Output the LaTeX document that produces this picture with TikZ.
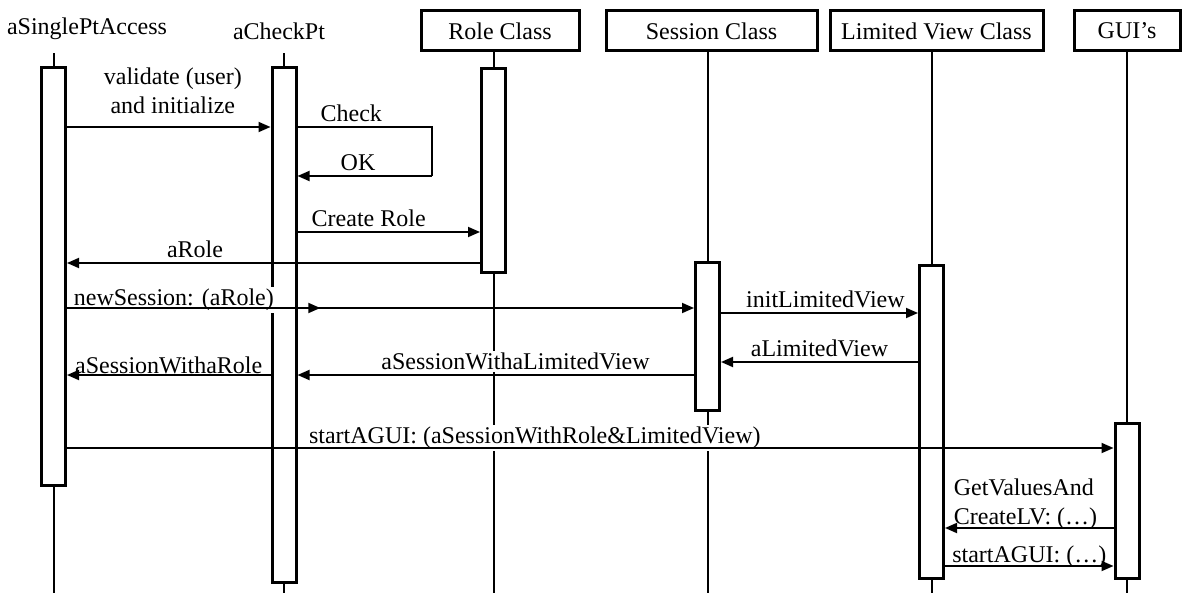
\documentclass[tikz,border=0pt]{standalone}
\usepackage{fontspec}
\setmainfont{Liberation Serif}
\usetikzlibrary{arrows.meta,decorations.markings}

\tikzset{
    head/.style={draw, line width=1.5pt, minimum height=20pt, inner sep=0pt},
    bar/.style={draw, fill=white, line width=1.5pt, minimum width=12pt, inner sep=0pt},
    life/.style={line width=1pt},
    msg/.style={line width=0.9pt, -{Triangle[length=6pt,width=5pt]}},
    lbl/.style={fill=white, inner sep=1pt, above=1pt, behind path},
}

\begin{document}
\begin{tikzpicture}[x=0.5pt, y=-0.5pt, font=\fontsize{12}{13.5}\selectfont]
    \useasboundingbox (0,0) rectangle (1182,593);

    % 绘制对象名称
    \node (acc) at (87,29) {aSinglePtAccess};
    \node (chk) at (279,31) {aCheckPt};
    \node[head, minimum width=79pt] (role) at (500,31) {Role Class};
    \node[head, minimum width=105.5pt] (ses) at (711.5,31) {Session Class};
    \node[head, minimum width=106.5pt] (lv) at (936.5,31) {Limited View Class};
    \node[head, minimum width=53pt] (gui) at (1127,31) {GUI’s};

    % 绘制激活条
    \node[bar, minimum height=208.5pt] (accBar) at (53.5,276.5) {};
    \node[bar, minimum height=257pt] (chkBar) at (284,325) {};
    \node[bar, minimum height=101.5pt] (roleBar) at (493.5,170.5) {};
    \node[bar, minimum height=74pt] (sesBar) at (707.5,336) {};
    \node[bar, minimum height=156.5pt] (lvBar) at (931.5,421.5) {};
    \node[bar, minimum height=77.5pt] (guiBar) at (1127,500.5) {};

    % 绘制生命线
    \draw[life] (accBar.north) -- ++(0,-13);
    \draw[life] (accBar.south) -- (accBar.south |- 0,593);
    \draw[life] (chkBar.north) -- ++(0,-13);
    \draw[life] (chkBar.south) -- (chkBar.south |- 0,593);
    \draw[life] (role.south -| roleBar.north) -- (roleBar.north);
    \draw[life] (roleBar.south) -- (roleBar.south |- 0,593);
    \draw[life] (ses.south -| sesBar.north) -- (sesBar.north);
    \draw[life] (sesBar.south) -- (sesBar.south |- 0,593);
    \draw[life] (lv.south -| lvBar.north) -- (lvBar.north);
    \draw[life] (lvBar.south) -- (lvBar.south |- 0,593);
    \draw[life] (gui.south -| guiBar.north) -- (guiBar.north);
    \draw[life] (guiBar.south) -- (guiBar.south |- 0,593);

    % 绘制消息
    \draw[msg] (accBar.east |- 0,127) -- node[lbl, align=center, pos=0.52, yshift=4pt] {validate (user)\\[1pt]and initialize} (chkBar.west |- 0,127);

    \coordinate (loopA) at (432,127);
    \coordinate (loopB) at (432,176);
    \draw[line width=0.9pt] (chkBar.east |- loopA) -- node[lbl, pos=0.4] {Check} (loopA) -- (loopB);
    \draw[msg] (loopB) -- node[lbl, pos=0.55] {OK} (chkBar.east |- loopB);

    \draw[msg] (chkBar.east |- 0,232) -- node[lbl, pos=0.39] {Create Role} (roleBar.west |- 0,232);
    \draw[msg] (roleBar.west |- 0,263) -- node[lbl, pos=0.69] {aRole} (accBar.east |- 0,263);

    \draw[msg, postaction={decorate}, decoration={markings,
        mark=at position 0.404 with {\arrow{Triangle[length=6pt,width=5pt]}}}]
        (accBar.east |- 0,308) -- node[lbl, pos=0, anchor=south west, xshift=2pt, yshift=-4pt] {newSession: (aRole)} (sesBar.west |- 0,308);

    \draw[msg] (sesBar.east |- 0,313) -- node[lbl, pos=0.53] {initLimitedView} (lvBar.west |- 0,313);
    \draw[msg] (lvBar.west |- 0,362) -- node[lbl] {aLimitedView} (sesBar.east |- 0,362);
    \draw[msg] (sesBar.west |- 0,375) -- node[lbl, pos=0.45] {aSessionWithaLimitedView} (chkBar.east |- 0,375);
    \draw[msg] (chkBar.west |- 0,375) -- node[lbl, yshift=-2pt] {aSessionWithaRole} (accBar.east |- 0,375);

    \draw[msg] (accBar.east |- 0,448) -- node[lbl, pos=0.447, yshift=-3pt] {startAGUI: (aSessionWithRole\&LimitedView)} (guiBar.west |- 0,448);

    \draw[msg] (guiBar.west |- 0,528) -- node[lbl, pos=1, anchor=south west, align=left, xshift=3pt, yshift=-3.5pt] {GetValuesAnd\\[1pt]CreateLV: (…)} (lvBar.east |- 0,528);
    \draw[msg] (lvBar.east |- 0,566) -- node[lbl, yshift=-3.5pt] {startAGUI: (…)} (guiBar.west |- 0,566);
\end{tikzpicture}
\end{document}
